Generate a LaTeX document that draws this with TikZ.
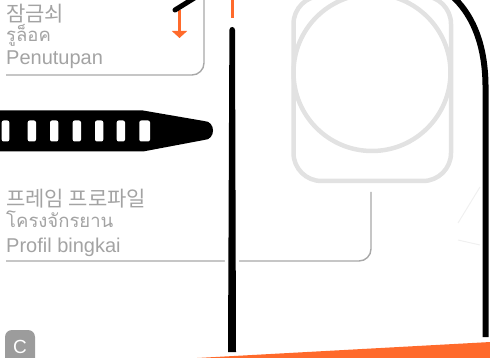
\documentclass[tikz,border=0pt]{standalone}
\usepackage{fontspec}
\setmainfont{Liberation Sans}
\newfontfamily\krfont{Noto Sans CJK KR}
\newfontfamily\thaifont[Script=Thai]{Loma}
\definecolor{accent}{HTML}{FF6A2B}
\definecolor{labelgray}{HTML}{A3A3A3}
\definecolor{leadergray}{HTML}{A8A8A8}
\definecolor{framegray}{HTML}{E2E2E2}
\definecolor{faintgray}{HTML}{F0F0F0}
\definecolor{badgegray}{HTML}{9C9C9C}
\begin{document}
\begin{tikzpicture}[x=1pt,y=-1pt,
  lbl/.style={anchor=base west, inner sep=0pt, text=labelgray},
  latin/.style={lbl, font=\fontsize{20}{24}\selectfont},
  korean/.style={lbl, font=\krfont\fontsize{21}{25}\selectfont},
  thai/.style={lbl, font=\thaifont\fontsize{18.5}{22}\selectfont},
  leader/.style={draw=leadergray, line width=1.4pt, rounded corners=12pt},
  frame/.style={draw=framegray, line width=4.5pt},
  hole/.style={fill=white, rounded corners=2pt},
]
\useasboundingbox (0,0) rectangle (490,358);
\clip (0,0) rectangle (490,358);

% watch case outline behind everything
\draw[frame, rounded corners=28pt] (293.5,-4) rectangle (451,181);
\draw[frame] (372,72.5) circle[radius=78.5pt];
\draw[faintgray, line width=1pt] (458,223) -- (480,187);
\draw[faintgray, line width=1pt] (458,240) -- (480,245);

% leader lines of the two labels
\coordinate (latchEnd) at (204,0);
\coordinate (frameEnd) at (371,192);
\draw[leader] (6,75) -| (latchEnd);
\draw[leader] (6,261) -| (frameEnd);

% labels
\node[korean] (latchKo) at (6,22) {잠금쇠};
\node[thai]   (latchTh) at (6,41.5) {รูล็อค};
\node[latin]  (latchId) at (6,64.5) {Penutupan};
\node[korean] (frameKo) at (6,207) {프레임 프로파일};
\node[thai]   (frameTh) at (6,228) {โครงจักรยาน};
\node[latin]  (frameId) at (6,252.5) {Profil bingkai};

% strap with its holes
\fill[black] (-2,110.5) -- (143,110.5) -- (204,121)
  .. controls (216,121) and (216,140) .. (204,140)
  -- (143,151.5) -- (-2,151.5) -- cycle;
\foreach \a/\b in {1.7/9.3, 27.7/36, 50/58.3, 72.7/81, 95/103.3, 116.7/125, 139.3/150}
  \fill[hole] (\a,120.5) rectangle (\b,141.5);

% latch: orange arrow and black pin
\coordinate (arrowTop) at (179.5,10);
\coordinate (arrowTip) at (179.5,38);
\draw[accent, line width=3pt] (arrowTop) -- (179.5,32);
\fill[accent] (171.8,31) -- (187.2,31) -- (arrowTip) -- cycle;
\draw[black, line width=5pt, line cap=round] (175,10) -- (196,-3);

% frame tube: orange tip and tapered black bar with white halo
\draw[accent, line width=3pt] (232,-2) -- (232,18);
\def\tubepath{(229.4,30) .. controls (229.4,26) and (235,26) .. (235,30) -- (236,352) -- (228,352) -- cycle}
\draw[white, line width=7pt, line join=round] \tubepath;
\fill[black] \tubepath;

% right edge of the bracelet
\draw[black, line width=6pt] (452,-4) .. controls (470,12) and (485,40) .. (485.5,85) -- (485.5,337);

% orange base band
\fill[accent] (188,358.5) -- (490.5,342) -- (490.5,358.5) -- cycle;

% corner badge
\fill[badgegray, rounded corners=7pt] (5,365) -- (5,330) -- (35,330) -- (35,365) -- cycle;
\node[text=white, font=\fontsize{19}{22}\selectfont, inner sep=0pt] (badge) at (20,346.5) {C};
\end{tikzpicture}
\end{document}
